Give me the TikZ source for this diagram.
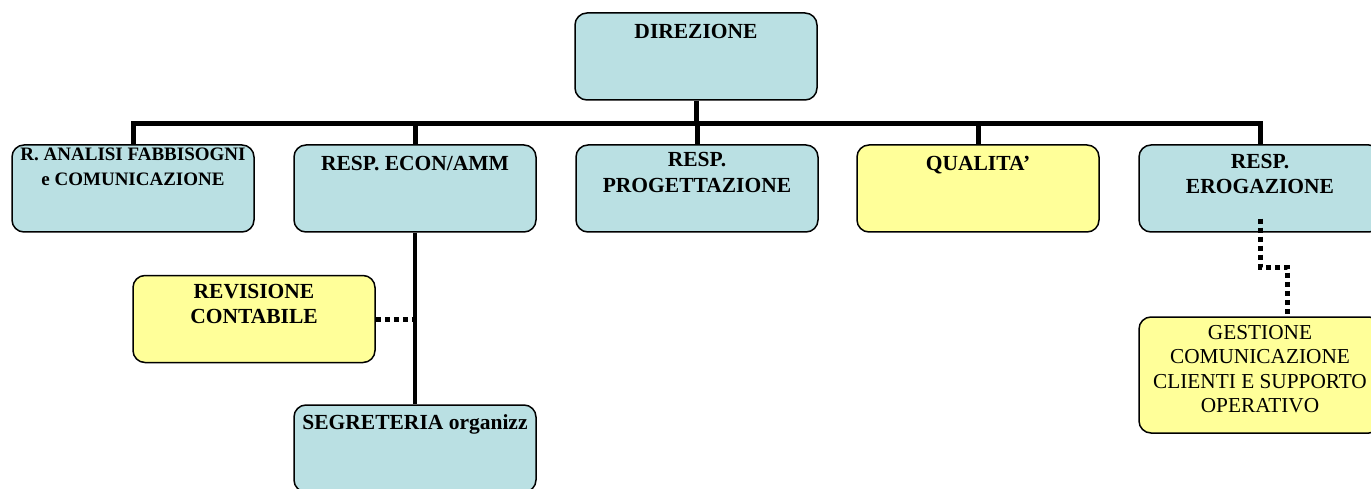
\documentclass[tikz,border=0pt]{standalone}
\usepackage{fontspec}
\setmainfont{Liberation Serif}
\definecolor{boxblue}{RGB}{186,224,227}
\definecolor{boxyellow}{RGB}{255,255,153}
\tikzset{
  orgbox/.style={draw=black, line width=1.5pt, rounded corners=12pt, minimum width=242pt, minimum height=87pt, inner sep=0pt},
  bluebox/.style={orgbox, fill=boxblue},
  yellowbox/.style={orgbox, fill=boxyellow},
  boxtext/.style={anchor=north, align=center, inner sep=0pt, font=\fontsize{21.5}{26}\selectfont\bfseries, execute at begin node={\rule{0pt}{16pt}}},
  plaintext/.style={boxtext, font=\fontsize{21.3}{24.3}\selectfont},
  bar/.style={line width=5pt},
  vbar/.style={line width=4.5pt},
  dotline/.style={line width=5pt, dash pattern=on 5pt off 4pt}
}
\begin{document}
\begin{tikzpicture}[x=1pt,y=-1pt]
\useasboundingbox (0,0) rectangle (1371,489);
\clip (0,0) rectangle (1371,489);
% boxes
\node[bluebox] (dir) at (696,56.5) {};
\node[bluebox] (ana) at (133,188.5) {};
\node[bluebox] (econ) at (415,188.5) {};
\node[bluebox] (prog) at (697,188.5) {};
\node[yellowbox] (qual) at (978,188.5) {};
\node[bluebox] (ero) at (1260,188.5) {};
\node[yellowbox] (rev) at (254,319) {};
\node[bluebox] (seg) at (415,448.5) {};
\node[yellowbox, minimum height=116pt] (gest) at (1260,375) {};
% texts (baseline of first line = north + 16pt)
\node[boxtext] (tdir) at ([yshift=-10pt]dir.north) {DIREZIONE};
\node[boxtext, font=\fontsize{19}{25.5}\selectfont\bfseries] (tana) at ([yshift=-3pt]ana.north) {R. ANALISI FABBISOGNI\\e COMUNICAZIONE};
\node[boxtext] (tecon) at ([yshift=-10pt]econ.north) {RESP. ECON/AMM};
\node[boxtext] (tprog) at ([yshift=-8pt]prog.north) {RESP.\\PROGETTAZIONE};
\node[boxtext] (tqual) at ([yshift=-10pt]qual.north) {QUALITA’};
\node[boxtext, font=\fontsize{21.5}{25}\selectfont\bfseries] (tero) at ([yshift=-10pt]ero.north) {RESP.\\EROGAZIONE};
\node[boxtext, font=\fontsize{21.5}{25}\selectfont\bfseries] (trev) at ([yshift=-9pt]rev.north) {REVISIONE\\CONTABILE};
\node[boxtext] (tseg) at ([yshift=-9pt]seg.north) {SEGRETERIA organizz};
\node[plaintext] (tgest) at ([yshift=-9pt]gest.north) {GESTIONE\\COMUNICAZIONE\\CLIENTI E SUPPORTO\\OPERATIVO};
% connectors
\coordinate (bus) at (697,124);
\draw[bar] (dir.south) -- (dir.south |- bus);
\draw[bar] (ana.north) -- (ana.north |- bus) -- (ero.north |- bus) -- (ero.north);
\draw[bar] (econ.north) -- (econ.north |- bus);
\draw[bar] (prog.north) -- (prog.north |- bus);
\draw[bar] (qual.north) -- (qual.north |- bus);
\draw[vbar] (econ.south) -- (seg.north);
\draw[dotline] (rev.east) -- (rev.east -| econ.south);
\coordinate (e0) at ([yshift=14pt]ero.south);
\coordinate (e1) at (1260,267);
\coordinate (e2) at (1287,267);
\draw[dotline] (e0) -- (e1) -- (e2) -- (e2 |- gest.north);
\end{tikzpicture}
\end{document}
